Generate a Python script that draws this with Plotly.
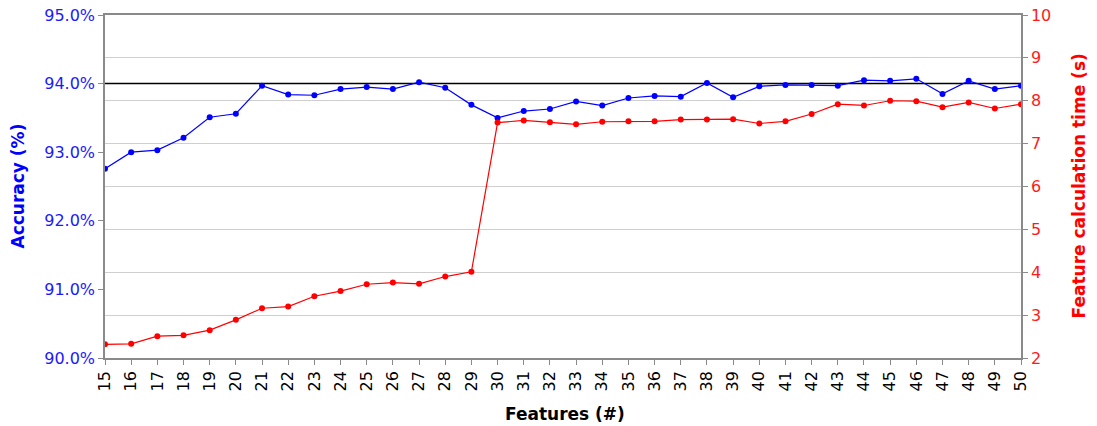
import plotly.graph_objects as go

features = list(range(15, 51))
accuracy = [92.76, 93.00, 93.03, 93.21, 93.51, 93.56, 93.97, 93.84, 93.83, 93.92,
            93.95, 93.92, 94.02, 93.94, 93.69, 93.50, 93.60, 93.63, 93.74, 93.68,
            93.79, 93.82, 93.81, 94.01, 93.80, 93.96, 93.98, 93.98, 93.97, 94.05,
            94.04, 94.07, 93.85, 94.04, 93.92, 93.97]
calc_time = [2.32, 2.33, 2.51, 2.53, 2.65, 2.89, 3.16, 3.20, 3.44, 3.56,
             3.72, 3.76, 3.73, 3.90, 4.01, 7.49, 7.54, 7.50, 7.45, 7.51,
             7.52, 7.52, 7.56, 7.56, 7.57, 7.47, 7.52, 7.69, 7.92, 7.89,
             8.00, 7.99, 7.85, 7.96, 7.82, 7.92]
ref_line = 94.0

FONT = "DejaVu Sans"
AX = "#8a8a8a"

fig = go.Figure()
fig.add_trace(go.Scatter(x=features, y=calc_time, yaxis="y2", mode="lines+markers",
                         line=dict(color="#ff0000", width=1.2),
                         marker=dict(color="#ff0000", size=6), showlegend=False))
fig.add_trace(go.Scatter(x=features, y=accuracy, mode="lines+markers",
                         line=dict(color="#0000ff", width=1.2),
                         marker=dict(color="#0000ff", size=6), showlegend=False))

fig.add_shape(type="line", xref="paper", x0=0, x1=1, yref="y", y0=ref_line, y1=ref_line,
              line=dict(color="black", width=1.5), layer="below")

fig.update_layout(
    width=1097, height=426,
    margin=dict(l=105, r=76, t=15, b=68),
    plot_bgcolor="white", paper_bgcolor="white",
    font=dict(family=FONT, size=16, color="black"),
    xaxis=dict(range=[15, 50], dtick=1, tick0=15, tickangle=-90, automargin=False,
               showline=True, linecolor=AX, linewidth=1.5, mirror=True,
               ticks="outside", ticklen=5, tickcolor=AX, showgrid=False, zeroline=False,
               tickfont=dict(size=16, color="black")),
    yaxis=dict(range=[90, 95], dtick=1, tickformat=".1f", ticksuffix="%", automargin=False,
               showline=True, linecolor=AX, linewidth=1.5,
               ticks="outside", ticklen=5, tickcolor=AX, showgrid=False, zeroline=False,
               tickfont=dict(size=16, color="#1a1aff")),
    yaxis2=dict(range=[2, 10], dtick=1, overlaying="y", side="right", automargin=False,
                showline=True, linecolor=AX, linewidth=1.5,
                ticks="outside", ticklen=5, tickcolor=AX,
                showgrid=True, gridcolor="#cfcfcf", gridwidth=1, zeroline=False,
                tickfont=dict(size=16, color="#ff1a1a")),
    annotations=[
        dict(text="<b>Accuracy (%)</b>", xref="paper", yref="paper", x=(17 - 105) / 916, y=0.5,
             xanchor="center", yanchor="middle",
             textangle=-90, showarrow=False, font=dict(size=17, color="#0000ff", family=FONT)),
        dict(text="<b>Feature calculation time (s)</b>", xref="paper", yref="paper",
             x=(1078 - 105) / 916, y=0.5, xanchor="center", yanchor="middle",
             textangle=-90, showarrow=False,
             font=dict(size=17, color="#ff0000", family=FONT)),
        dict(text="<b>Features (#)</b>", xref="paper", yref="paper", x=(565 - 105) / 916,
             y=(358 - 414) / 343, xanchor="center", yanchor="middle",
             showarrow=False, font=dict(size=17, color="black", family=FONT)),
    ],
)

fig.write_html("out.html")
